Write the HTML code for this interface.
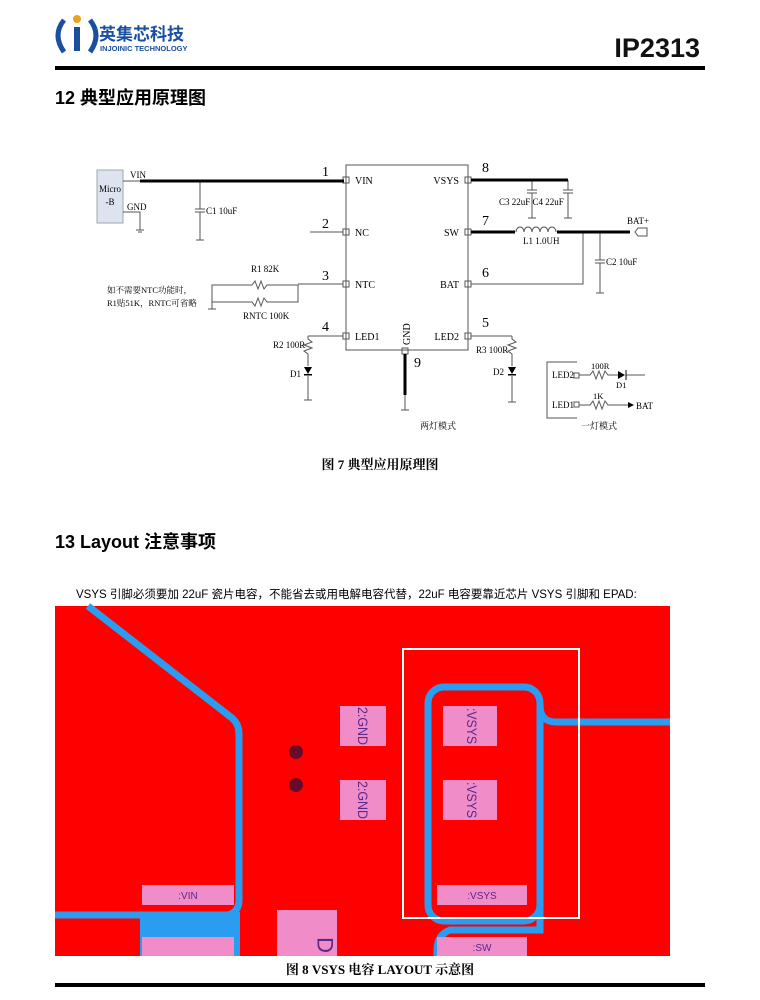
<!DOCTYPE html>
<html><head><meta charset="utf-8"><style>
html,body{margin:0;padding:0;background:#fff}
svg{display:block}
.s{font-family:"Liberation Serif","Noto Serif CJK SC",serif;}
.a{font-family:"Liberation Sans","Noto Sans CJK SC",sans-serif;}
</style></head><body>
<svg width="760" height="1000" viewBox="0 0 760 1000" xmlns="http://www.w3.org/2000/svg">
<!-- header -->
<path d="M64 20 Q52 35 64 52" stroke="#1a4fa0" stroke-width="5" fill="none"/>
<path d="M90 20 Q102 35 90 52" stroke="#1a4fa0" stroke-width="5" fill="none"/>
<circle cx="77" cy="19" r="4" fill="#f0a020"/>
<rect x="74" y="27" width="6" height="24" fill="#1a4fa0"/>
<text x="99" y="40" class="a" font-size="17" font-weight="bold" fill="#1a4fa0">英集芯科技</text>
<text x="100" y="51" class="a" font-size="7.5" font-weight="bold" fill="#1a4fa0">INJOINIC TECHNOLOGY</text>
<text x="700" y="57" text-anchor="end" class="a" font-size="27" font-weight="bold" fill="#111">IP2313</text>
<rect x="55" y="66" width="650" height="4" fill="#000"/>
<text x="55" y="104" class="a" font-size="18" font-weight="bold" fill="#000">12  典型应用原理图</text>

<!-- schematic -->
<g class="s" fill="#000" stroke="none" font-size="10">
<rect x="346" y="165" width="122" height="185" fill="none" stroke="#555" stroke-width="1"/>
<g fill="none" stroke="#555" stroke-width="1">
<rect x="343" y="177" width="6" height="6"/><rect x="343" y="229" width="6" height="6"/><rect x="343" y="281" width="6" height="6"/><rect x="343" y="333" width="6" height="6"/>
<rect x="465" y="177" width="6" height="6"/><rect x="465" y="229" width="6" height="6"/><rect x="465" y="281" width="6" height="6"/><rect x="465" y="333" width="6" height="6"/>
<rect x="402" y="348" width="6" height="6"/>
</g>
<text x="355" y="184">VIN</text><text x="355" y="236">NC</text><text x="355" y="288">NTC</text><text x="355" y="340">LED1</text>
<text x="459" y="184" text-anchor="end">VSYS</text><text x="459" y="236" text-anchor="end">SW</text><text x="459" y="288" text-anchor="end">BAT</text><text x="459" y="340" text-anchor="end">LED2</text>
<text x="410" y="345" transform="rotate(-90 410 345)" font-size="10">GND</text>
<g font-size="14"><text x="322" y="176">1</text><text x="322" y="228">2</text><text x="322" y="280">3</text><text x="322" y="331">4</text>
<text x="482" y="172">8</text><text x="482" y="225">7</text><text x="482" y="277">6</text><text x="482" y="327">5</text><text x="414" y="367">9</text></g>
<!-- micro-B -->
<rect x="97" y="170" width="26" height="53" fill="#dde4f0" stroke="#9aa"/>
<text x="110" y="192" text-anchor="middle" font-size="9">Micro</text><text x="110" y="205" text-anchor="middle" font-size="9">-B</text>
<text x="130" y="178" font-size="9">VIN</text><text x="127" y="210" font-size="9">GND</text>
<g stroke="#555" stroke-width="1" fill="none">
<line x1="123" y1="181" x2="140" y2="181"/>
<polyline points="123,212 140,212 140,230"/><line x1="136" y1="230" x2="144" y2="230"/><line x1="138" y1="232" x2="142" y2="232"/>
<line x1="200" y1="181" x2="200" y2="209"/><line x1="195" y1="209" x2="205" y2="209"/><line x1="195" y1="212" x2="205" y2="212"/><line x1="200" y1="212" x2="200" y2="240"/><line x1="196" y1="240" x2="204" y2="240"/>
<line x1="310" y1="232" x2="343" y2="232"/>
<line x1="298" y1="284" x2="343" y2="284"/>
<polyline points="212,302 212,285 252,285 255,281 258,289 261,281 264,289 267,285 298,285 298,302 267,302 264,298 261,306 258,298 255,306 252,302 212,302"/>
<line x1="212" y1="302" x2="212" y2="309"/><line x1="208" y1="309" x2="216" y2="309"/>
<polyline points="308,336 343,336"/>
<polyline points="308,336 308,339 312,342 304,345 312,348 304,351 308,354 308,366"/>
<line x1="308" y1="376" x2="308" y2="400"/><line x1="304" y1="400" x2="312" y2="400"/>
<line x1="405" y1="395" x2="405" y2="410"/><line x1="401" y1="410" x2="409" y2="410"/>
<line x1="532" y1="180" x2="532" y2="190"/><line x1="527" y1="190" x2="537" y2="190"/><line x1="527" y1="193" x2="537" y2="193"/><line x1="532" y1="193" x2="532" y2="218"/><line x1="528" y1="218" x2="536" y2="218"/>
<line x1="568" y1="180" x2="568" y2="190"/><line x1="563" y1="190" x2="573" y2="190"/><line x1="563" y1="193" x2="573" y2="193"/><line x1="568" y1="193" x2="568" y2="218"/><line x1="564" y1="218" x2="572" y2="218"/>
<path d="M516 232 a4 5 0 0 1 8 0 a4 5 0 0 1 8 0 a4 5 0 0 1 8 0 a4 5 0 0 1 8 0 a4 5 0 0 1 8 0"/>
<polyline points="583,232 583,284 471,284"/>
<line x1="600" y1="232" x2="600" y2="260"/><line x1="595" y1="260" x2="605" y2="260"/><line x1="595" y1="263" x2="605" y2="263"/><line x1="600" y1="263" x2="600" y2="293"/><line x1="596" y1="293" x2="604" y2="293"/>
<polygon points="638,228 647,228 647,236 638,236 635,232"/>
<line x1="471" y1="336" x2="512" y2="336"/>
<polyline points="512,336 512,339 516,342 508,345 516,348 508,351 512,354 512,366"/>
<line x1="512" y1="376" x2="512" y2="402"/><line x1="508" y1="402" x2="516" y2="402"/>
<polyline points="577,362 547,362 547,418 577,418"/>
<rect x="574" y="373" width="5" height="5"/><rect x="574" y="402" width="5" height="5"/>
<polyline points="579,375 590,375 593,371 596,379 599,371 602,379 605,371 608,375 618,375"/>
<line x1="626" y1="375" x2="645" y2="375"/>
<polyline points="579,405 590,405 593,401 596,409 599,401 602,409 605,401 608,405 628,405"/>
</g>
<polygon points="618,371 618,379 625,375"/><line x1="626" y1="370" x2="626" y2="380" stroke="#000"/>
<polygon points="628,402 634,405 628,408"/>
<polygon points="304,367 312,367 308,374"/><rect x="304" y="374" width="8" height="1.5"/>
<polygon points="508,367 516,367 512,374"/><rect x="508" y="374" width="8" height="1.5"/>
<g stroke="#000" stroke-width="3"><line x1="140" y1="181" x2="344" y2="181"/><line x1="471" y1="180" x2="568" y2="180"/><line x1="471" y1="232" x2="515" y2="232"/><line x1="557" y1="232" x2="630" y2="232"/><line x1="405" y1="354" x2="405" y2="395"/></g>
<text x="206" y="214" font-size="9">C1 10uF</text>
<text x="251" y="272" font-size="9">R1 82K</text><text x="243" y="319" font-size="9">RNTC 100K</text>
<text x="107" y="293" font-size="8.5">如不需要NTC功能时，</text><text x="107" y="306" font-size="8.5">R1贴51K，RNTC可省略</text>
<text x="273" y="348" font-size="9">R2 100R</text><text x="290" y="377" font-size="9">D1</text>
<text x="499" y="205" font-size="9">C3 22uF C4 22uF</text>
<text x="523" y="244" font-size="9">L1 1.0UH</text>
<text x="627" y="224" font-size="9">BAT+</text>
<text x="606" y="265" font-size="9">C2 10uF</text>
<text x="476" y="353" font-size="9">R3 100R</text><text x="493" y="375" font-size="9">D2</text>
<text x="552" y="378" font-size="9">LED2</text><text x="552" y="408" font-size="9">LED1</text>
<text x="591" y="369" font-size="8.5">100R</text><text x="593" y="399" font-size="8.5">1K</text>
<text x="616" y="388" font-size="8.5">D1</text><text x="636" y="409" font-size="9">BAT</text>
<text x="581" y="429" font-size="9">一灯模式</text><text x="420" y="429" font-size="9">两灯模式</text>
</g>
<text x="380" y="469" text-anchor="middle" class="s" font-size="13" font-weight="bold">图 7 典型应用原理图</text>

<text x="55" y="548" class="a" font-size="18" font-weight="bold">13 Layout 注意事项</text>
<text x="76" y="598" class="a" font-size="11.5">VSYS 引脚必须要加 22uF 瓷片电容，不能省去或用电解电容代替，22uF 电容要靠近芯片 VSYS 引脚和 EPAD:</text>

<!-- PCB -->
<rect x="55" y="606" width="615" height="350" fill="#ff0000"/>
<g fill="none" stroke="#2a9df0" stroke-width="7">
<path d="M88 606 L232 718 Q239 724 239 734 L239 900 Q239 912 228 915 L55 915"/>
<rect x="428" y="687" width="112" height="234" rx="16"/>
<path d="M540 705 Q540 722 556 722 L670 722"/>
<path d="M540 890 L540 930 L450 930 Q437 935 437 950 L437 956"/>
</g>
<rect x="140" y="912" width="100" height="44" fill="#2a9df0"/>
<rect x="340" y="706" width="46" height="40" fill="#f08cc8"/>
<rect x="340" y="780" width="46" height="40" fill="#f08cc8"/>
<rect x="443" y="706" width="54" height="40" fill="#f08cc8"/>
<rect x="443" y="780" width="54" height="40" fill="#f08cc8"/>
<rect x="142" y="885" width="92" height="20" fill="#f08cc8"/>
<rect x="142" y="937" width="92" height="19" fill="#f08cc8"/>
<rect x="277" y="910" width="60" height="46" fill="#f08cc8"/>
<rect x="437" y="885" width="90" height="20" fill="#f08cc8"/>
<rect x="437" y="937" width="90" height="19" fill="#f08cc8"/>
<circle cx="296" cy="752" r="7" fill="#6a0a2a"/><circle cx="296" cy="785" r="7" fill="#6a0a2a"/>
<rect x="403" y="649" width="176" height="269" fill="none" stroke="#fff" stroke-width="2"/>
<g class="a" fill="#5a2a8a" font-size="14">
<text transform="translate(363 726) rotate(90)" text-anchor="middle" dominant-baseline="central" textLength="38" lengthAdjust="spacingAndGlyphs">2:GND</text>
<text transform="translate(363 800) rotate(90)" text-anchor="middle" dominant-baseline="central" textLength="38" lengthAdjust="spacingAndGlyphs">2:GND</text>
<text transform="translate(472 726) rotate(90)" text-anchor="middle" dominant-baseline="central" textLength="36" lengthAdjust="spacingAndGlyphs">:VSYS</text>
<text transform="translate(472 800) rotate(90)" text-anchor="middle" dominant-baseline="central" textLength="36" lengthAdjust="spacingAndGlyphs">:VSYS</text>
<text x="188" y="899" text-anchor="middle" font-size="10">:VIN</text>
<text x="482" y="899" text-anchor="middle" font-size="10">:VSYS</text>
<text x="482" y="951" text-anchor="middle" font-size="10">:SW</text>
<text transform="translate(325 945) rotate(90)" text-anchor="middle" dominant-baseline="central" font-size="22">D</text>
</g>
<text x="380" y="974" text-anchor="middle" class="s" font-size="13" font-weight="bold">图 8 VSYS 电容 LAYOUT 示意图</text>
<rect x="55" y="983" width="650" height="4" fill="#000"/>
</svg>
</body></html>
